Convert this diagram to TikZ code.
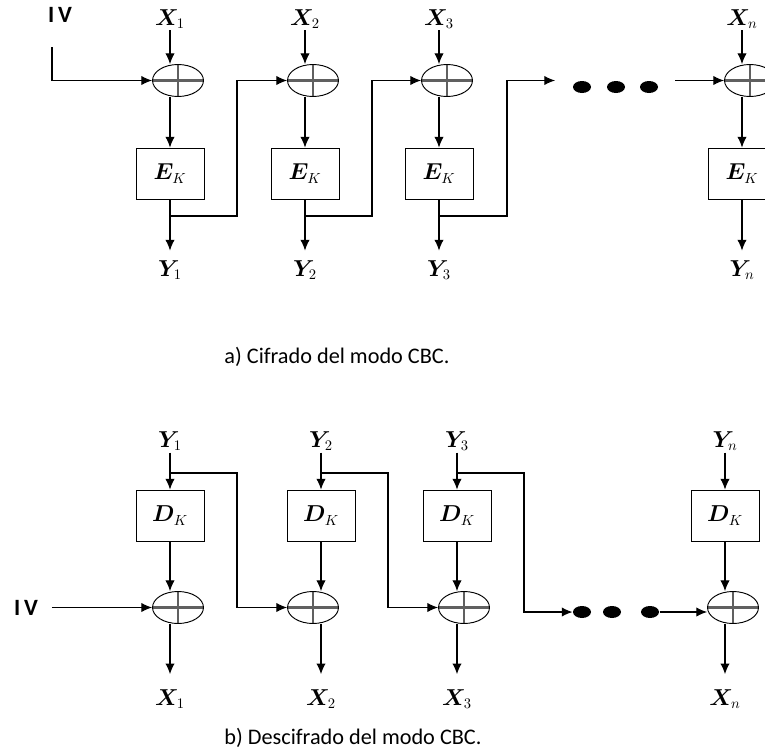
\documentclass[tikz,border=0pt]{standalone}
\usepackage{fontspec}
\setmainfont{Carlito}
\usepackage{bm}
\usetikzlibrary{arrows.meta, positioning, calc, shapes.geometric}

\begin{document}
\begin{tikzpicture}[x=0.75pt, y=-0.75pt, line width=0.8pt,
  >={Latex[length=8pt,width=7pt]},
  blk/.style={draw, rectangle, minimum width=51pt, minimum height=38.25pt, inner sep=0pt, line width=0.7pt, font=\fontsize{16}{18}\selectfont},
  xorop/.style={draw, ellipse, minimum width=38.25pt, minimum height=24pt, inner sep=0pt, line width=0.7pt,
    path picture={\draw[gray!75!black, line width=1.6pt] (path picture bounding box.north) -- (path picture bounding box.south)
      (path picture bounding box.west) -- (path picture bounding box.east);}},
  lbl/.style={inner sep=1pt, font=\fontsize{16}{18}\selectfont},
  ivlbl/.style={inner sep=1pt, font=\fontsize{17.5}{19}\selectfont\bfseries},
  blob/.style={fill=black, ellipse, minimum width=13.5pt, minimum height=9pt, inner sep=0pt},
  captxt/.style={font=\fontsize{16.7}{19}\selectfont}]
  \useasboundingbox (0,0) rectangle (765,753);

  % a) encryption chain
  \node[ivlbl] (ivt) at (60,15) {I\,V};
  \coordinate (ivin) at (52,47);
  \foreach \i/\c/\e in {1/170/178, 2/305/313, 3/439/447, n/742/750} {
    \node[lbl] (xt\i) at (\c,19) {$\bm{X}_{\i}$};
    \node[xorop] (ot\i) at (\e,80.5) {};
    \node[blk] (et\i) at (\c,173.5) {$\bm{E}_K$};
    \node[lbl] (yt\i) at (\c,270) {$\bm{Y}_{\i}$};
    \coordinate (jt\i) at (\c,216);
    \draw[->] (xt\i) -- (xt\i |- ot\i.north);
    \draw[->] (et\i.north |- ot\i.south) -- (et\i);
    \draw[->, shorten >=6pt] (et\i) -- (yt\i);
  }
  \draw[->] (ivin) |- (ot1.west);
  % feedback of each ciphertext block
  \coordinate (kt1) at (237,216);
  \coordinate (kt2) at (372,216);
  \coordinate (kt3) at (507,216);
  \coordinate (gapa) at (555,80.5);
  \coordinate (gapb) at (675,80.5);
  \draw[->] (jt1) -- (kt1) |- (ot2.west);
  \draw[->] (jt2) -- (kt2) |- (ot3.west);
  \draw[->] (jt3) -- (kt3) |- (gapa);
  \draw[->] (gapb) -- (otn.west);
  \node[blob] (td1) at (582,87) {};
  \node[blob] (td2) at (616,87) {};
  \node[blob] (td3) at (649,87) {};
  \node[captxt] (capa) at (337,357) {a) Cifrado del modo CBC.};

  % b) decryption chain
  \node[ivlbl] (ivb) at (26,607.5) {I\,V};
  \foreach \i/\c/\e in {1/170/178, 2/321/313, 3/457/464, n/725/733} {
    \node[lbl] (yb\i) at (\c,441) {$\bm{Y}_{\i}$};
    \node[blk] (db\i) at (\c,515.5) {$\bm{D}_K$};
    \node[xorop] (ob\i) at (\e,607.5) {};
    \node[lbl] (xb\i) at (\c,699) {$\bm{X}_{\i}$};
    \coordinate (jb\i) at (\c,473);
    \draw[->] (yb\i) -- (db\i);
    \draw[->] (db\i) -- (db\i |- ob\i.north);
    \draw[->, shorten >=10pt] (db\i |- ob\i.south) -- (xb\i);
  }
  \draw[->, shorten <=9pt] (ivb) -- (ob1.west);
  % feedback of each ciphertext block
  \coordinate (kb1) at (237,473);
  \coordinate (kb2) at (388,473);
  \coordinate (kb3) at (524,473);
  \node[blob] (bd1) at (582,612) {};
  \node[blob] (bd2) at (612,612) {};
  \node[blob] (bd3) at (650,612) {};
  \draw[->] (jb1) -- (kb1) |- (ob2.west);
  \draw[->] (jb2) -- (kb2) |- (ob3.west);
  \draw[->] (jb3) -- (kb3) |- (bd1.west);
  \draw[->] (bd3) -- (bd3 -| obn.west);
  \node[captxt] (capb) at (353,738) {b) Descifrado del modo CBC.};
\end{tikzpicture}
\end{document}
